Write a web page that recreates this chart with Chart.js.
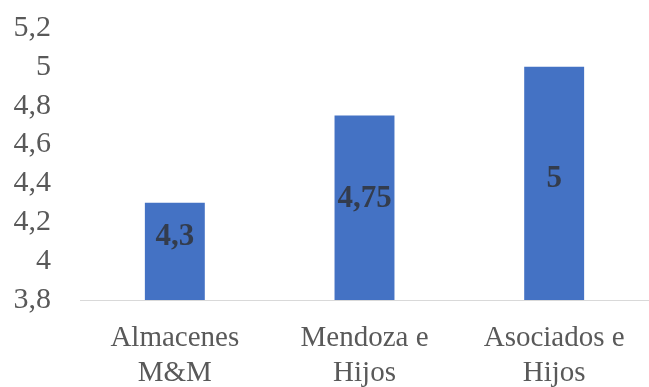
<!DOCTYPE html>
<html>
<head>
<meta charset="utf-8">
<script src="https://cdn.jsdelivr.net/npm/chart.js@4"></script>
<style>
  html, body { margin: 0; padding: 0; background: #fff; }
  #wrap { width: 649px; height: 387px; }
</style>
</head>
<body>
<div id="wrap"><canvas id="barChart"></canvas></div>
<script>
var empresas = [['Almacenes', 'M&M'], ['Mendoza e', 'Hijos'], ['Asociados e', 'Hijos']];
var puntajes = [4.3, 4.75, 5];
var ejeMin = 3.8;
var ejeMax = 5.2;
var ejePaso = 0.2;

function coma(v) {
    return String(Number(v.toFixed(2))).replace('.', ',');
}

// etiquetas de datos dentro de la barra
var etiquetas = {
    id: 'etiquetas',
    afterDraw: function(chart) {
        var c = chart.ctx;
        var escala = chart.scales.y;
        var meta = chart.getDatasetMeta(0);
        c.save();
        c.font = 'bold 31px "Liberation Serif"';
        c.fillStyle = '#333c4d';
        c.textAlign = 'center';
        c.textBaseline = 'middle';
        meta.data.forEach(function(bar, i) {
            var tope = escala.getPixelForValue(puntajes[i]);
            var h = escala.bottom - tope;
            var y = tope + 0.574 * h - 22;
            c.fillText(coma(puntajes[i]), bar.x, y);
        });
        c.restore();
    }
};

var ctx = document.getElementById('barChart').getContext('2d');
var grafico = new Chart(ctx, {
    type: 'bar',
    data: {
        labels: empresas,
        datasets: [{
            data: puntajes,
            backgroundColor: '#4472c4',
            borderWidth: 0,
            barPercentage: 1,
            categoryPercentage: 0.316
        }]
    },
    options: {
        responsive: true,
        maintainAspectRatio: false,
        animation: false,
        layout: {
            padding: { top: 28, right: 0, bottom: 0, left: 0 }
        },
        plugins: {
            legend: { display: false },
            tooltip: { enabled: false }
        },
        scales: {
            x: {
                grid: { display: false },
                border: { display: true, color: '#d9d9d9', width: 1 },
                afterFit: function(scale) { scale.height = 87; },
                ticks: {
                    color: '#595959',
                    padding: 13,
                    maxRotation: 0,
                    font: { family: '"Liberation Serif"', size: 29, lineHeight: 1.2 }
                }
            },
            y: {
                min: ejeMin,
                max: ejeMax,
                grid: { display: false },
                border: { display: false },
                afterFit: function(scale) {
                    scale.width = 80;
                    scale.paddingTop = 0;
                    scale.paddingBottom = 0;
                },
                ticks: {
                    stepSize: ejePaso,
                    autoSkip: false,
                    color: '#595959',
                    padding: 21,
                    font: { family: '"Liberation Serif"', size: 30 },
                    callback: function(v) { return coma(v); }
                }
            }
        }
    },
    plugins: [etiquetas]
});
</script>
</body>
</html>
